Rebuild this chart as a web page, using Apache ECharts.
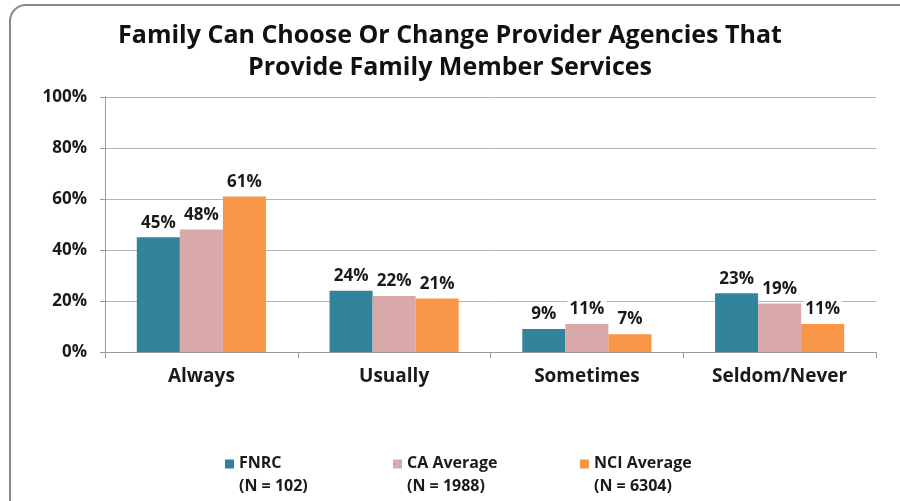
<!DOCTYPE html>
<html>
<head>
<meta charset="utf-8">
<script src="https://cdn.jsdelivr.net/npm/echarts@6/dist/echarts.min.js"></script>
<style>
  html, body { margin: 0; padding: 0; background: #fff; }
  #chart { width: 900px; height: 501px; }
</style>
</head>
<body>
<div id="chart"></div>
<script>
// Response categories and percentages for each group
const categories = ['Always', 'Usually', 'Sometimes', 'Seldom/Never'];
const fnrc = [45, 24, 9, 23];
const caAverage = [48, 22, 11, 19];
const nciAverage = [61, 21, 7, 11];
const seriesNames = ['FNRC', 'CA Average', 'NCI Average'];
const sampleSizes = ['(N = 102)', '(N = 1988)', '(N = 6304)'];
const yTicks = [0, 20, 40, 60, 80, 100];

const colors = ['#31849B', '#D9A9AA', '#F79646'];
const legendLefts = [225, 393, 580];
const FONT = '"Open Sans", Lato, sans-serif';

const chart = echarts.init(document.getElementById('chart'), null, { renderer: 'canvas' });

const labelStyle = {
  show: true,
  position: 'top',
  distance: 6,
  formatter: p => p.value + '%',
  fontFamily: FONT,
  fontWeight: 'bold',
  fontSize: 17,
  color: '#1a1a1a',
  backgroundColor: '#fff',
  padding: [1, 2, 0, 2]
};

const seriesData = [fnrc, caAverage, nciAverage];

// one legend block per group so each sits at its own spot
const legends = seriesNames.map((name, i) => ({
  data: [name],
  left: legendLefts[i],
  bottom: 3,
  padding: 0,
  itemWidth: 9,
  itemHeight: 31,
  // square swatch aligned with the first text line
  icon: 'path://M0,0L9,0L9,9L0,9Z M0,31L0.001,31',
  formatter: n => n + '\n' + sampleSizes[seriesNames.indexOf(n)],
  textStyle: {
    fontFamily: FONT,
    fontWeight: 'bold',
    fontSize: 16,
    lineHeight: 23,
    color: '#1a1a1a'
  }
}));

chart.setOption({
  animation: false,
  color: colors,
  title: {
    text: 'Family Can Choose Or Change Provider Agencies That\nProvide Family Member Services',
    left: 'center',
    top: 15,
    textStyle: {
      fontFamily: FONT,
      fontWeight: 'bold',
      fontSize: 25,
      lineHeight: 32,
      color: '#111'
    }
  },
  graphic: [{
    type: 'rect',
    shape: { x: 10, y: 5, width: 905, height: 510, r: 16 },
    style: { fill: 'none', stroke: '#8a8a8a', lineWidth: 2 },
    z: -1,
    silent: true
  }],
  legend: legends,
  grid: { left: 105, right: 24, top: 97, bottom: 149 },
  xAxis: {
    type: 'category',
    data: categories,
    axisLine: { show: true, lineStyle: { color: '#9a9a9a', width: 1 } },
    axisTick: { show: true, length: 6, lineStyle: { color: '#9a9a9a' } },
    axisLabel: {
      margin: 15,
      fontFamily: FONT,
      fontWeight: 'bold',
      fontSize: 19,
      color: '#1a1a1a'
    }
  },
  yAxis: {
    type: 'value',
    min: 0,
    max: 100,
    interval: 20,
    axisLine: { show: true, lineStyle: { color: '#9a9a9a', width: 1 } },
    axisTick: { show: true, inside: false, length: 5, lineStyle: { color: '#9a9a9a' } },
    splitLine: { show: true, lineStyle: { color: '#b4b4b4', width: 1 } },
    axisLabel: {
      margin: 18,
      fontFamily: FONT,
      fontWeight: 'bold',
      fontSize: 17,
      color: '#1a1a1a',
      formatter: v => (yTicks.includes(v) ? v + '%' : '')
    }
  },
  series: seriesNames.map((name, i) => ({
    name: name,
    type: 'bar',
    data: seriesData[i],
    barGap: '0%',
    barCategoryGap: '33%',
    itemStyle: { color: colors[i] },
    label: labelStyle
  }))
});
</script>
</body>
</html>
